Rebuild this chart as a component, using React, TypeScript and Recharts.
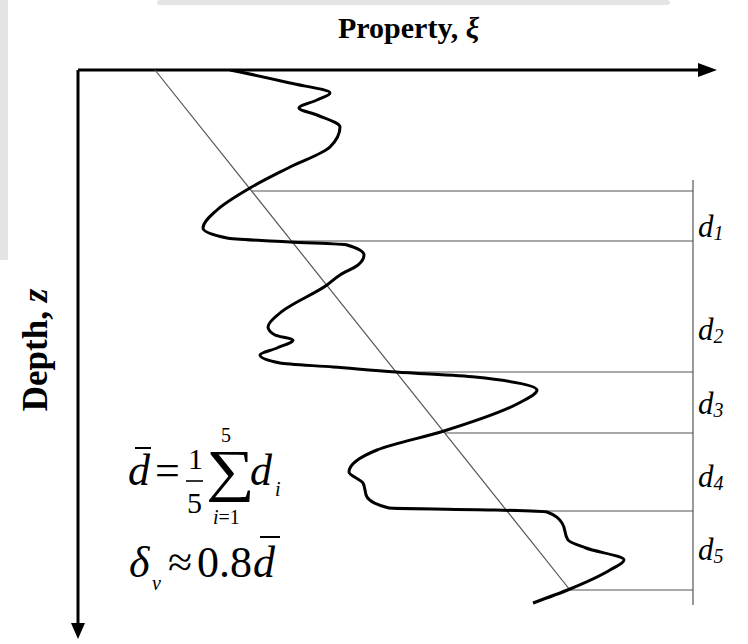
import React from 'react';
import {
  ComposedChart,
  XAxis,
  YAxis,
  Scatter,
  ReferenceLine,
  ReferenceDot,
  Customized,
} from 'recharts';

// Property profile ξ(z): property value and depth (same units as the axes)
const profileProperty = [
  152, 162, 212, 252, 239, 221, 239, 262, 252, 212, 172, 139, 125, 149, 212, 269,
  286, 280, 262, 249, 202, 190, 197, 215, 199, 182, 202, 255, 318, 397, 459, 441,
  366, 299, 271, 285, 289, 311, 417, 469, 484, 490, 508, 546, 532, 492, 455,
];
const profileDepth = [
  0, 2, 13, 23, 30, 38, 45, 57, 77, 97, 118, 140, 158, 168, 172, 175,
  185, 195, 205, 215, 243, 257, 265, 270, 278, 285, 293, 297, 302, 307, 320, 333,
  361, 380, 402, 413, 427, 438, 440, 442, 453, 470, 478, 490, 500, 519, 533,
];

// Linear trend line through the profile
const trendStart = { x: 77, y: 0 };
const trendEnd = { x: 492, y: 520 };

// Depths at which the profile crosses the trend line (segment boundaries)
const crossingDepths = [121, 171, 302, 363, 441, 520];
const segmentLabels = ['1', '2', '3', '4', '5'];
const bracketProperty = 615;

const X_MAX = 622;
const Y_MAX = 555;

const profileData = profileProperty.map((x, i) => ({ x, y: profileDepth[i] }));

const trendX = (depth: number) =>
  trendStart.x + ((trendEnd.x - trendStart.x) * (depth - trendStart.y)) / (trendEnd.y - trendStart.y);

const SERIF = '"Liberation Serif", "DejaVu Serif", serif';

const labelBaselines = [237, 340, 414, 487, 560];

const Annotations = () => (
  <g fontFamily={SERIF} fill="#000">
    {/* faint page edges */}
    <rect x={0} y={0} width={8} height={260} fill="#e4e4e4" />
    <rect x={157} y={0} width={513} height={5} rx={3} fill="#e4e4e4" />

    <text x={338} y={38} fontSize={30} fontWeight="bold">
      Property, <tspan fontStyle="italic">ξ</tspan>
    </text>
    <text
      x={47}
      y={350}
      fontSize={35}
      fontWeight="bold"
      textAnchor="middle"
      transform="rotate(-90 47 350)"
    >
      Depth, <tspan fontStyle="italic">z</tspan>
    </text>

    {segmentLabels.map((s, i) => (
      <text key={s} x={698} y={labelBaselines[i]} fontSize={31} fontStyle="italic">
        d
        <tspan fontSize={20} dy={3}>
          {s}
        </tspan>
      </text>
    ))}

    {/* mean segment length */}
    <text x={128} y={485} fontSize={44} fontStyle="italic">d</text>
    <line x1={135} x2={151} y1={448} y2={448} stroke="#000" strokeWidth={2} />
    <text x={155} y={485} fontSize={44}>=</text>
    <text x={188} y={469} fontSize={30}>1</text>
    <line x1={186} x2={203} y1={481} y2={481} stroke="#000" strokeWidth={1.6} />
    <text x={187} y={513} fontSize={30}>5</text>
    <text transform="translate(206 490) scale(1.18 1)" fontSize={58}>∑</text>
    <text x={221} y={442} fontSize={20}>5</text>
    <text x={213} y={524} fontSize={20}>
      <tspan fontStyle="italic">i</tspan>=1
    </text>
    <text x={250} y={485} fontSize={44} fontStyle="italic">d</text>
    <text x={275} y={496} fontSize={20} fontStyle="italic">i</text>

    {/* boundary layer thickness */}
    <text x={129} y={577} fontSize={44} fontStyle="italic">δ</text>
    <text x={152} y={590} fontSize={20} fontStyle="italic">v</text>
    <text x={168} y={577} fontSize={44}>≈</text>
    <text x={197} y={577} fontSize={44}>0.8</text>
    <text x={253} y={577} fontSize={44} fontStyle="italic">d</text>
    <line x1={260} x2={280} y1={537} y2={537} stroke="#000" strokeWidth={2} />
  </g>
);

export default function App() {
  return (
    <div style={{ position: 'absolute', left: 0, top: 0, background: '#fff' }}>
      <ComposedChart
        width={748}
        height={644}
        margin={{ top: 70, left: 78, right: 48, bottom: 19 }}
      >
        <XAxis type="number" dataKey="x" domain={[0, X_MAX]} hide allowDataOverflow />
        <YAxis type="number" dataKey="y" domain={[0, Y_MAX]} reversed hide allowDataOverflow />

        {/* property and depth axes */}
        <ReferenceLine
          segment={[
            { x: 0, y: 0 },
            { x: X_MAX, y: 0 },
          ]}
          stroke="#000"
          strokeWidth={3}
          ifOverflow="visible"
        />
        <ReferenceLine
          segment={[
            { x: 0, y: 0 },
            { x: 0, y: Y_MAX },
          ]}
          stroke="#000"
          strokeWidth={3}
          ifOverflow="visible"
        />

        <ReferenceLine
          segment={[trendStart, trendEnd]}
          stroke="#555"
          strokeWidth={1.2}
          ifOverflow="visible"
        />
        {crossingDepths.map((d) => (
          <ReferenceLine
            key={d}
            segment={[
              { x: trendX(d), y: d },
              { x: bracketProperty, y: d },
            ]}
            stroke="#555"
            strokeWidth={1.2}
            ifOverflow="visible"
          />
        ))}
        <ReferenceLine
          segment={[
            { x: bracketProperty, y: 110 },
            { x: bracketProperty, y: 535 },
          ]}
          stroke="#555"
          strokeWidth={1.2}
          ifOverflow="visible"
        />

        <Scatter
          data={profileData}
          line={{ stroke: '#000', strokeWidth: 3 }}
          lineJointType="monotoneY"
          shape={() => <g />}
          fill="#000"
          isAnimationActive={false}
        />

        <ReferenceDot
          x={X_MAX}
          y={0}
          ifOverflow="visible"
          shape={(p: any) => (
            <polygon
              points={`${p.cx + 17},${p.cy} ${p.cx - 2},${p.cy - 7} ${p.cx - 2},${p.cy + 7}`}
              fill="#000"
            />
          )}
        />
        <ReferenceDot
          x={0}
          y={Y_MAX}
          ifOverflow="visible"
          shape={(p: any) => (
            <polygon
              points={`${p.cx},${p.cy + 14} ${p.cx - 7},${p.cy - 2} ${p.cx + 7},${p.cy - 2}`}
              fill="#000"
            />
          )}
        />

        <Customized component={Annotations} />
      </ComposedChart>
    </div>
  );
}
